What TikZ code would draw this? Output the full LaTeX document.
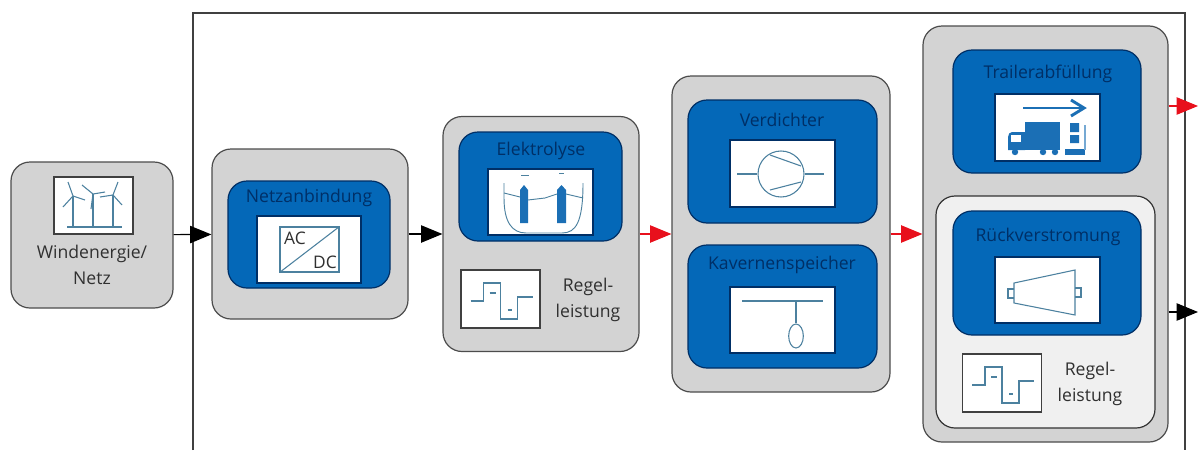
\documentclass[tikz,border=0pt]{standalone}
\usepackage{fontspec}
\setmainfont{Open Sans}
\usetikzlibrary{arrows.meta, shapes.geometric}
\definecolor{boxgrey}{HTML}{D3D3D3}
\definecolor{boxlight}{HTML}{F0F0F0}
\definecolor{boxblue}{HTML}{0468B8}
\definecolor{boxnavy}{HTML}{002F66}
\definecolor{iconblue}{HTML}{4C819F}
\definecolor{truckblue}{HTML}{1B6FB5}
\definecolor{labelgrey}{HTML}{303030}
\definecolor{flowred}{HTML}{E8101C}
\tikzset{
  size/.style 2 args = {minimum width=#1*0.75pt, minimum height=#2*0.75pt},
  group/.style = {draw=black!70, line width=0.9pt, fill=boxgrey, rounded corners=19*0.75pt, inner sep=0pt},
  light/.style = {draw=black!80, line width=0.9pt, fill=boxlight, rounded corners=19*0.75pt, inner sep=0pt},
  unit/.style = {draw=boxnavy, line width=0.9pt, fill=boxblue, rounded corners=19*0.75pt, inner sep=0pt},
  screen/.style = {fill=white, draw=boxnavy, line width=0.8pt, inner sep=0pt},
  framed/.style = {fill=white, draw=black!75, line width=0.9pt, inner sep=0pt},
  title/.style = {text=boxnavy, font=\fontsize{13.2}{15}\selectfont, inner sep=0pt},
  label/.style = {text=labelgrey, font=\fontsize{13.2}{19}\selectfont, align=center, inner sep=0pt},
  icon/.style = {draw=iconblue, line width=0.8pt},
  black flow/.style = {draw=black, line width=0.9pt, -{Triangle[length=16pt,width=13pt]}},
  red flow/.style = {draw=flowred, line width=0.9pt, -{Triangle[length=16pt,width=13pt]}},
  regel/.pic = {
    \draw[icon] (-30,2) -- (-17,2) -- (-17,-16) -- (0,-16) -- (0,20) -- (17,20) -- (17,-2) -- (32,-2);
    \draw[icon] (-11,-6) -- (-5,-6);
    \draw[icon] (7,11) -- (11,11);
  },
}
\begin{document}
\begin{tikzpicture}[x=0.75pt, y=-0.75pt]
    \useasboundingbox (0,0) rectangle (1198,450);

    \coordinate (frame nw) at (193,13);
    \coordinate (frame ne) at (1185,13);
    \coordinate (frame sw) at (193,450);
    \coordinate (frame se) at (1185,450);
    \draw[black!75, line width=0.9pt] (frame sw) -- (frame nw) -- (frame ne) -- (frame se);

    \node[group, size={162}{146}] (wind) at (92,235) {};
    \node[group, size={196}{170}] (netz) at (310,234) {};
    \node[group, size={196}{235}] (elektro) at (541,234) {};
    \node[group, size={218}{316}] (speicher) at (781,234) {};
    \node[group, size={245}{416}] (ausgang) at (1045.5,234) {};
    \node[light, size={219}{232}] (rueck) at (1045.5,312) {};

    \node[unit, size={162}{107}] (netzunit) at (309,234.5) {};
    \node[unit, size={163}{109}] (elektrounit) at (540.5,186.5) {};
    \node[unit, size={189}{123}] (verdunit) at (782.5,161.5) {};
    \node[unit, size={189}{123}] (kavunit) at (782.5,306.5) {};
    \node[unit, size={188}{123}] (trailerunit) at (1047,111.5) {};
    \node[unit, size={188}{124}] (rueckunit) at (1047,273) {};

    \node[title] (netztext) at (309,198) {Netzanbindung};
    \node[title] (elektrotext) at (541,151) {Elektrolyse};
    \node[title] (verdtext) at (782,120) {Verdichter};
    \node[title] (kavtext) at (782,265) {Kavernenspeicher};
    \node[title] (trailertext) at (1048,74) {Trailerabfüllung};
    \node[title] (ruecktext) at (1048,237) {Rückverstromung};

    \node[framed, size={79}{57}] (windicon) at (93.5,205.5) {};
    \node[label] (windtext) at (92,265) {Windenergie/\\Netz};

    \draw[icon, line width=1.1pt] (73,226) -- (73,196) (93,226) -- (93,194) (113,226) -- (113,195);
    \draw[icon, line width=1.6pt] (67,227) -- (122,227);
    \draw[icon] (73,196) -- (68,182) (73,196) -- (63,207) (73,196) -- (85,200);
    \draw[icon] (93,194) -- (82,185) (93,194) -- (105,192) (93,194) -- (91,209);
    \draw[icon] (113,195) -- (118,182) (113,195) -- (100,197) (113,195) -- (122,205);

    \node[screen, size={104}{67}] (acdcscreen) at (309,249.5) {};
    \node[draw=iconblue, fill=white, line width=0.8pt, inner sep=0pt, size={59}{45}] (acdc) at (309.5,249.5) {};
    \draw[icon] (acdc.south west) -- (acdc.north east);
    \node[text=labelgrey, font=\fontsize{13}{15}\selectfont, inner sep=0pt] (actext) at (295,238) {AC};
    \node[text=labelgrey, font=\fontsize{13}{15}\selectfont, inner sep=0pt] (dctext) at (325,262) {DC};

    \node[screen, size={105}{66}] (elektroscreen) at (540.5,202) {};
    \draw[iconblue, line width=0.7pt] (504,183) -- (504,198) .. controls (504,222) and (512,233) .. (526,233) -- (562,233) .. controls (576,233) and (583,222) .. (583,183);
    \draw[iconblue, line width=0.7pt] (504,193) -- (520,197) (528,200) -- (545,198) -- (557,194) (566,194) -- (583,198);
    \fill[truckblue] (520,223) -- (520,190) -- (524,185) -- (528,190) -- (528,223) -- cycle;
    \fill[truckblue] (557,223) -- (557,190) -- (561.5,185) -- (566,190) -- (566,223) -- cycle;
    \draw[iconblue] (521,175) -- (529,175) (559,173) -- (564,173);

    \node[framed, size={79}{58}] (regelicon) at (500.5,299) {};
    \pic at (500.5,299) {regel};
    \node[label] (regeltext) at (588,300) {Regel-\\leistung};

    \node[screen, size={105}{67}] (verdscreen) at (782.5,173.5) {};
    \node[icon, circle, minimum size=34.5pt, inner sep=0pt] (verdkreis) at (781,174) {};
    \draw[icon] (737,174) -- (verdkreis.west) (verdkreis.east) -- (824,174);
    \draw[icon] (770,155) -- (801,166) (770,190) -- (801,182);

    \node[screen, size={105}{66}] (kavscreen) at (782.5,320) {};
    \draw[icon] (742,301) -- (823,301);
    \node[icon, ellipse, minimum width=11pt, minimum height=18pt, inner sep=0pt] (kaverne) at (796,336) {};
    \draw[icon] (796,301) -- (kaverne.north);

    \node[screen, size={105}{67}] (trailerscreen) at (1047.5,127.5) {};
    \fill[truckblue] (1025,122) rectangle (1060,150);
    \fill[truckblue] (1008,150) -- (1008,137) .. controls (1008,134) and (1010,132) .. (1012,132) -- (1025,132) -- (1025,150) -- cycle;
    \fill[white] (1011,135) rectangle (1021,142);
    \fill[truckblue] (1015,152) circle (3.2*0.75pt) (1043,152) circle (3.2*0.75pt) (1055,152) circle (3.2*0.75pt);
    \draw[truckblue, line width=2.2pt] (1023,108) -- (1083,108);
    \draw[truckblue, line width=2.2pt] (1071,100) -- (1084,108) -- (1071,116);
    \fill[truckblue] (1070,123) rectangle (1079,132) (1070,135) rectangle (1079,143);
    \fill[truckblue] (1065,149) rectangle (1085,155);
    \draw[truckblue!60, line width=1pt] (1085,125) -- (1085,150);

    \node[screen, size={105}{66}] (rueckscreen) at (1047.5,290) {};
    \draw[icon] (1014,283) -- (1075,270) -- (1075,315) -- (1014,303) -- cycle;
    \draw[icon] (1014,289) -- (1008,289) -- (1008,298) -- (1014,298);
    \draw[icon] (1075,288) -- (1081,288) -- (1081,297) -- (1075,297);

    \node[framed, size={79}{58}] (regelicon2) at (1002,383) {};
    \pic at (1002,383) {regel};
    \node[label] (regeltext2) at (1090,384) {Regel-\\leistung};

    \coordinate (ausrot) at (1198,106);
    \coordinate (ausschwarz) at (1198,312);

    \draw[black flow] (wind) -- (netz);
    \draw[black flow] (netz) -- (elektro);
    \draw[red flow] (elektro) -- (speicher);
    \draw[red flow] (speicher) -- (ausgang);
    \draw[red flow] (ausgang.east |- ausrot) -- (ausrot);
    \draw[black flow] (ausgang.east |- ausschwarz) -- (ausschwarz);
\end{tikzpicture}
\end{document}
